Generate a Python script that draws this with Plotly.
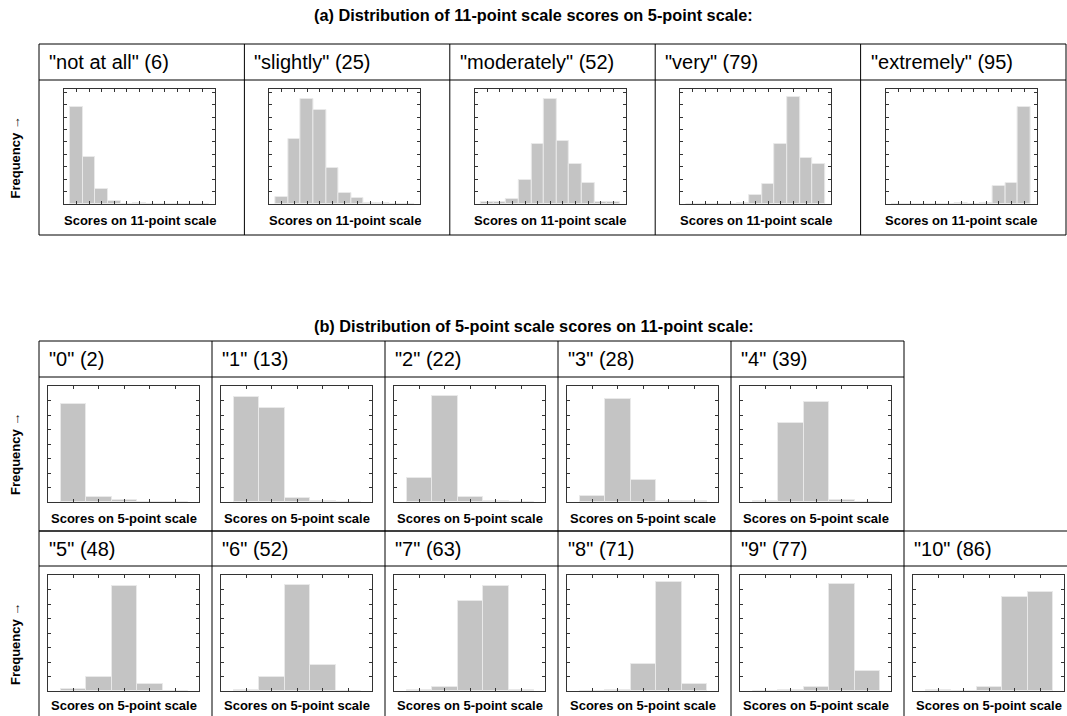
import plotly.graph_objects as go

W, H = 1067, 716
FONT = "Liberation Sans, Arial, sans-serif"

# ---------------- data ----------------
title_a = "(a) Distribution of 11-point scale scores on 5-point scale:"
title_b = "(b) Distribution of 5-point scale scores on 11-point scale:"

labels_a = ['"not at all" (6)', '"slightly" (25)', '"moderately" (52)', '"very" (79)', '"extremely" (95)']
bins_a = [0, 1, 2, 3, 4, 5, 6, 7, 8, 9, 10]
freq_not_at_all = [84.2, 40.6, 13.2, 2.9, 0, 1.0, 0, 0, 0, 0, 0]
freq_slightly = [6.4, 56.4, 91.2, 81.9, 31.3, 9.4, 5.6, 1.2, 1.2, 0, 0]
freq_moderately = [1.5, 2.0, 4.7, 20.5, 52.0, 91.5, 54.7, 34.5, 18.4, 1.5, 1.5]
freq_very = [0, 0, 0, 0, 1.2, 8.2, 17.3, 52.0, 93.3, 39.8, 34.5]
freq_extremely = [0, 0, 0, 0, 0, 0.9, 0, 1.2, 16.0, 18.4, 84.2]
series_a = [freq_not_at_all, freq_slightly, freq_moderately, freq_very, freq_extremely]

labels_b = ['"0" (2)', '"1" (13)', '"2" (22)', '"3" (28)', '"4" (39)',
            '"5" (48)', '"6" (52)', '"7" (63)', '"8" (71)', '"9" (77)', '"10" (86)']
bins_b = [1, 2, 3, 4, 5]
freq_0 = [84.3, 4.4, 1.5, 0, 0]
freq_1 = [90.4, 81.4, 3.2, 1.0, 0]
freq_2 = [20.3, 91.0, 4.7, 0.6, 0]
freq_3 = [5.5, 88.7, 18.6, 1.2, 0.6]
freq_4 = [1.0, 68.3, 85.8, 2.0, 0]
freq_5 = [2.0, 11.7, 90.9, 6.2, 0.3]
freq_6 = [0.9, 12.3, 91.8, 22.3, 0]
freq_7 = [0.9, 3.2, 77.4, 90.9, 0.9]
freq_8 = [0, 0.9, 23.0, 94.0, 5.9]
freq_9 = [0, 0.9, 3.8, 92.6, 17.2]
freq_10 = [0.9, 0, 3.8, 80.8, 85.2]
series_b = [freq_0, freq_1, freq_2, freq_3, freq_4, freq_5, freq_6, freq_7, freq_8, freq_9, freq_10]

xlabel_a = "Scores on 11-point scale"
xlabel_b = "Scores on 5-point scale"
ylabel = "Frequency \u2192"

# ---------------- helpers ----------------
def X(px):
    return px / W

def Y(py):
    return 1 - py / H

fig = go.Figure()
shapes = []
annotations = []
layout_axes = {}
LINE = dict(color="black", width=1)

def hline(x0, x1, y):
    shapes.append(dict(type="line", xref="paper", yref="paper", x0=X(x0), x1=X(x1),
                       y0=Y(y), y1=Y(y), line=LINE))

def vline(x, y0, y1):
    shapes.append(dict(type="line", xref="paper", yref="paper", x0=X(x), x1=X(x),
                       y0=Y(y0), y1=Y(y1), line=LINE))

def text(x, y, s, size, bold=False, xanchor="left", angle=0):
    annotations.append(dict(xref="paper", yref="paper", x=X(x), y=Y(y), text=("<b>%s</b>" % s) if bold else s,
                            showarrow=False, xanchor=xanchor, yanchor="middle", textangle=angle,
                            font=dict(family=FONT, size=size, color="black")))

axis_n = [0]

def add_hist(xs, ys, left, top, width, height, xrange_, dtick_y):
    axis_n[0] += 1
    n = axis_n[0]
    sx = "" if n == 1 else str(n)
    fig.add_trace(go.Bar(x=xs, y=ys, width=1, xaxis="x" + sx, yaxis="y" + sx,
                         marker=dict(color="#c4c4c4", line=dict(color="#e9e9e9", width=1)),
                         showlegend=False, hoverinfo="skip"))
    common = dict(showline=True, linecolor="#333333", linewidth=1, mirror="allticks",
                  ticks="inside", ticklen=3, tickcolor="#333333", tickwidth=1,
                  showticklabels=False, showgrid=False, zeroline=False, fixedrange=True)
    layout_axes["xaxis" + sx] = dict(domain=[X(left), X(left + width)], anchor="y" + sx,
                                     range=xrange_, tick0=0, dtick=1, **common)
    layout_axes["yaxis" + sx] = dict(domain=[Y(top + height), Y(top)], anchor="x" + sx,
                                     range=[0, 100], tick0=0, dtick=dtick_y, **common)

# ---------------- table (a) ----------------
a_left, a_colw = 39, 205.4
a_top, a_head, a_bot = 44, 80, 235
a_box_top, a_box_bot = 89, 204
a_label_y = 220
a_box_off, box_w = 25, 151
a_right = a_left + 5 * a_colw

text(W / 2, 15, title_a, 16.3, bold=True, xanchor="center")
hline(a_left, a_right, a_top)
hline(a_left, a_right, a_head)
hline(a_left, a_right, a_bot)
for i in range(6):
    vline(a_left + i * a_colw, a_top, a_bot)
for i, (lab, ys) in enumerate(zip(labels_a, series_a)):
    cl = a_left + i * a_colw
    text(cl + 8, (a_top + a_head) / 2, lab, 20)
    add_hist(bins_a, ys, cl + a_box_off, a_box_top, box_w, a_box_bot - a_box_top, [-1, 11], 10.8)
    text(cl + a_box_off + box_w / 2, a_label_y, xlabel_a, 13, bold=True, xanchor="center")
text(15, (a_head + a_bot) / 2, ylabel, 13, bold=True, xanchor="center", angle=-90)

# ---------------- table (b) ----------------
b_left, b_colw = 39, 173
b_box_off = 9
rows = [
    dict(head_top=341, head_bot=377, box_top=386, box_bot=502, label_y=518, bot=531, idx=range(0, 5)),
    dict(head_top=531, head_bot=566, box_top=575, box_bot=691, label_y=705, bot=722, idx=range(5, 11)),
]

text(W / 2, 326, title_b, 16.3, bold=True, xanchor="center")
for r, row in enumerate(rows):
    ncol = len(row["idx"])
    right = b_left + ncol * b_colw
    hline(b_left, right, row["head_top"])
    hline(b_left, right, row["head_bot"])
    hline(b_left, right, row["bot"])
    for i in range(ncol + 1):
        vline(b_left + i * b_colw, row["head_top"], row["bot"])
    for i, k in enumerate(row["idx"]):
        cl = b_left + i * b_colw
        text(cl + 8, (row["head_top"] + row["head_bot"]) / 2, labels_b[k], 20)
        add_hist(bins_b, series_b[k], cl + b_box_off, row["box_top"], box_w, row["box_bot"] - row["box_top"],
                 [0, 5.93], 12.5)
        text(cl + b_box_off + box_w / 2, row["label_y"], xlabel_b, 13, bold=True, xanchor="center")
    text(15, (row["head_bot"] + row["bot"]) / 2, ylabel, 13, bold=True, xanchor="center", angle=-90)

fig.update_layout(width=W, height=H, margin=dict(l=0, r=0, t=0, b=0),
                  paper_bgcolor="white", plot_bgcolor="white", bargap=0,
                  shapes=shapes, annotations=annotations, **layout_axes)

fig.write_html("out.html", config={"displayModeBar": False},
               post_script="document.body.style.margin='0';document.body.style.overflow='hidden';")
